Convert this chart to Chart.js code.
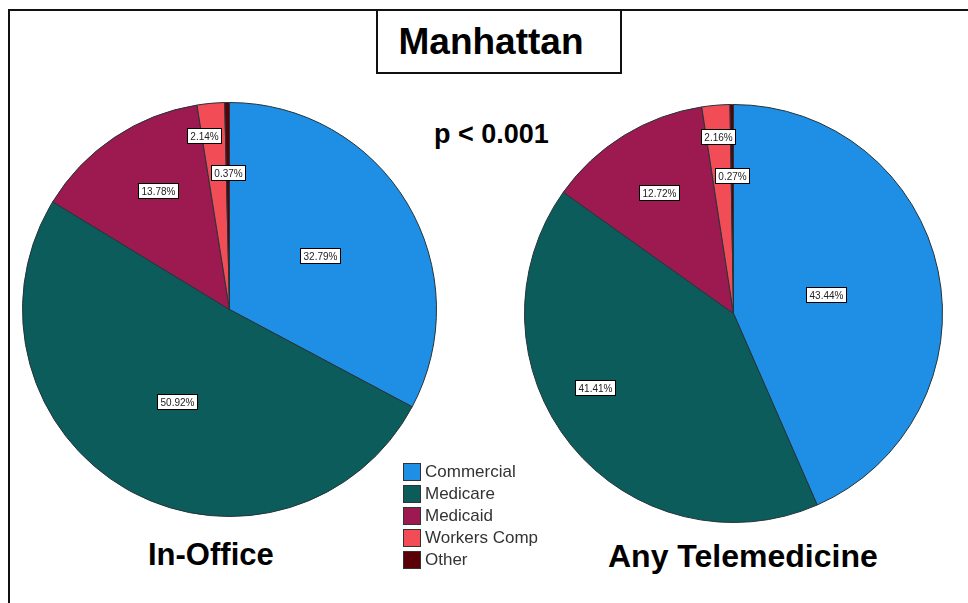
<!DOCTYPE html>
<html>
<head>
<meta charset="utf-8">
<script src="https://cdn.jsdelivr.net/npm/chart.js@4.4.1/dist/chart.umd.min.js"></script>
<style>
    body { margin: 0; background: #fff; font-family: Arial, "Liberation Sans", sans-serif; }
    #stage { position: relative; width: 968px; height: 603px; overflow: hidden; }
    #frame { position: absolute; left: 8px; top: 9px; width: 980px; height: 620px;
             border-left: 2px solid #111; border-top: 2px solid #111; }
    #title-box { position: absolute; left: 376px; top: 9px; width: 242px; height: 61px;
                 border: 2px solid #111; background: #fff; text-align: center;
                 font-weight: bold; font-size: 37px; line-height: 61px; color: #000;
                 box-sizing: content-box; }
    #title-box span { position: relative; left: -8px; }
    .big { position: absolute; font-weight: bold; color: #000; white-space: nowrap; }
    #pval { left: 434px; top: 119px; font-size: 27px; }
    #lbl-left { left: 148px; top: 537px; font-size: 31px; }
    #lbl-right { left: 608px; top: 538px; font-size: 32px; }
    canvas { position: absolute; }
    #legend { position: absolute; left: 403px; top: 461px; }
    .leg-row { display: flex; align-items: center; height: 22px; }
    .leg-sw { width: 16px; height: 16px; border: 1px solid #333; margin-right: 4px; }
    .leg-tx { font-size: 17px; color: #333; }
</style>
</head>
<body>
<div id="stage">
    <div id="frame"></div>
    <div id="title-box"><span>Manhattan</span></div>
    <div id="pval" class="big">p &lt; 0.001</div>
    <canvas id="pie-left" width="415" height="415" style="left:22px;top:102px"></canvas>
    <canvas id="pie-right" width="419" height="419" style="left:524px;top:104px"></canvas>
    <div id="legend"></div>
    <div id="lbl-left" class="big">In-Office</div>
    <div id="lbl-right" class="big">Any Telemedicine</div>
</div>
<script>
const categories = ['Commercial', 'Medicare', 'Medicaid', 'Workers Comp', 'Other'];
const inOfficeValues = [32.79, 50.92, 13.78, 2.14, 0.37];
const telemedicineValues = [43.44, 41.41, 12.72, 2.16, 0.27];

const colors = ['#1f8fe6', '#0d5c5c', '#9c1a50', '#f24c57', '#5a0006'];

// where the value boxes sit: fraction of the radius, and a nudge in degrees
const leftLabelRadius = [0.51, 0.51, 0.67, 0.85, 0.66];
const leftLabelShift = [0, 0, 3, -3, 0];
const rightLabelRadius = [0.45, 0.75, 0.68, 0.85, 0.66];
const rightLabelShift = [0, 11, 0, 0, 0];

const valueBoxes = {
    id: 'valueBoxes',
    afterDatasetsDraw(chart, args, opts) {
        const ctx = chart.ctx;
        const meta = chart.getDatasetMeta(0);
        const values = chart.data.datasets[0].data;
        ctx.save();
        ctx.font = '10px Arial, "Liberation Sans", sans-serif';
        ctx.textAlign = 'center';
        ctx.textBaseline = 'middle';
        meta.data.forEach((arc, i) => {
            const mid = (arc.startAngle + arc.endAngle) / 2 + opts.shift[i] * Math.PI / 180;
            const r = arc.outerRadius * opts.radius[i];
            const x = arc.x + Math.cos(mid) * r;
            const y = arc.y + Math.sin(mid) * r;
            const text = values[i].toFixed(2) + '%';
            const w = Math.round(ctx.measureText(text).width + 6);
            const h = 15;
            const bx = Math.round(x - w / 2) + 0.5;
            const by = Math.round(y - h / 2) + 0.5;
            ctx.fillStyle = '#fff';
            ctx.fillRect(bx, by, w, h);
            ctx.strokeStyle = '#000';
            ctx.lineWidth = 1;
            ctx.strokeRect(bx, by, w, h);
            ctx.fillStyle = '#222';
            ctx.fillText(text, bx + w / 2, by + h / 2 + 1);
        });
        ctx.restore();
    }
};

function makePie(id, values, radius, shift) {
    return new Chart(document.getElementById(id), {
        type: 'pie',
        data: {
            labels: categories,
            datasets: [{
                data: values,
                backgroundColor: colors,
                borderColor: '#23343a',
                borderWidth: 1,
                hoverOffset: 0
            }]
        },
        options: {
            responsive: false,
            animation: false,
            events: [],
            plugins: {
                legend: { display: false },
                tooltip: { enabled: false },
                valueBoxes: { radius, shift }
            }
        },
        plugins: [valueBoxes]
    });
}

makePie('pie-left', inOfficeValues, leftLabelRadius, leftLabelShift);
makePie('pie-right', telemedicineValues, rightLabelRadius, rightLabelShift);

// legend between the two pies
const legendEl = document.getElementById('legend');
categories.forEach((name, i) => {
    const row = document.createElement('div');
    row.className = 'leg-row';
    const sw = document.createElement('div');
    sw.className = 'leg-sw';
    sw.style.background = colors[i];
    const tx = document.createElement('div');
    tx.className = 'leg-tx';
    tx.textContent = name;
    row.append(sw, tx);
    legendEl.appendChild(row);
});
</script>
</body>
</html>
